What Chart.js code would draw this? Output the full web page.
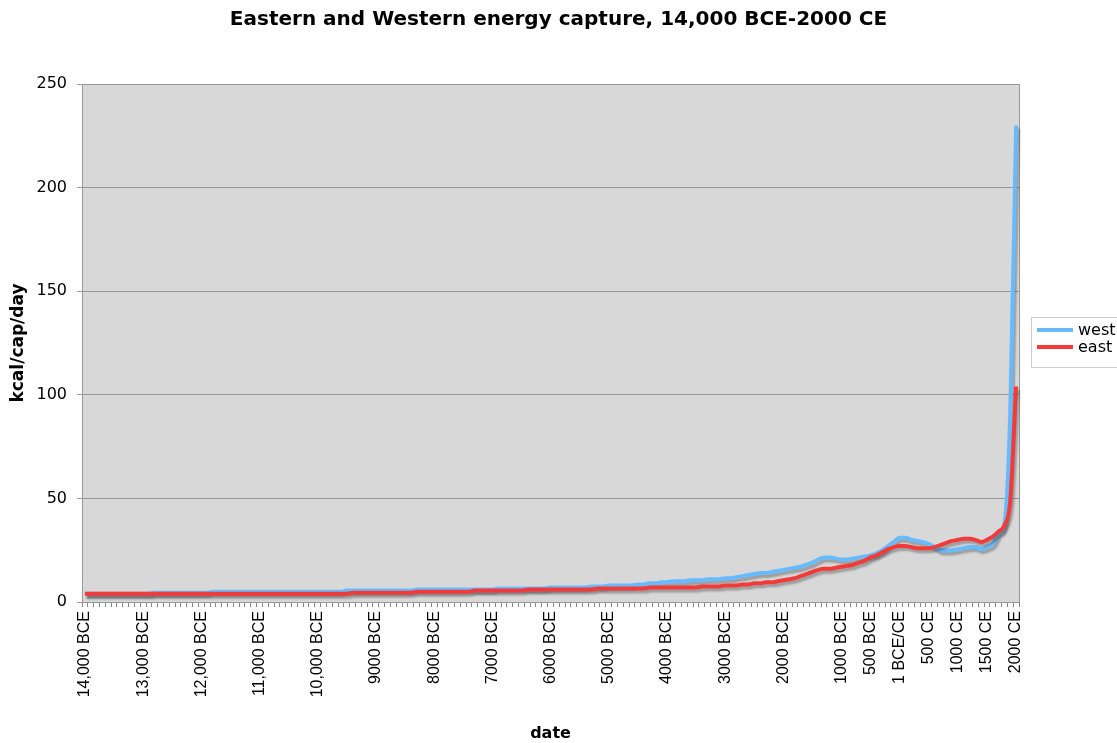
<!DOCTYPE html>
<html>
<head>
<meta charset="utf-8">
<title>Eastern and Western energy capture</title>
<script src="https://cdn.jsdelivr.net/npm/chart.js@4.4.0/dist/chart.umd.min.js"></script>
<style>
  body { margin: 0; background: #fff; }
  #wrap { width: 1117px; height: 743px; }
</style>
</head>
<body>
<div id="wrap"><canvas id="grafico" width="1117" height="743"></canvas></div>
<script>
// categorias: um ponto a cada 100 anos, 14,000 BCE ate 2000 CE
const categories = [];
for (let y = -14000; y <= 2000; y += 100) {
  if (y === 0) categories.push('1 BCE/CE');
  else if (y < 0) {
    let a = -y;
    categories.push((a >= 10000 ? a.toLocaleString('en-US') : String(a)) + ' BCE');
  } else categories.push(y + ' CE');
}

// rotulos que aparecem no eixo x
const tickLabels = ['14,000 BCE', '13,000 BCE', '12,000 BCE', '11,000 BCE', '10,000 BCE',
  '9000 BCE', '8000 BCE', '7000 BCE', '6000 BCE', '5000 BCE', '4000 BCE', '3000 BCE',
  '2000 BCE', '1000 BCE', '500 BCE', '1 BCE/CE', '500 CE', '1000 CE', '1500 CE', '2000 CE'];

// west (mil kcal/cap/dia)
const west = [
  4, 4, 4, 4, 4, 4, 4, 4, 4, 4,                       // 14,000 BCE
  4, 4, 4.5, 4.5, 4.5, 4.5, 4.5, 4.5, 4.5, 4.5,       // 13,000
  4.5, 4.5, 5, 5, 5, 5, 5, 5, 5, 5,                   // 12,000
  5, 5, 5, 5, 5, 5, 5, 5, 5, 5,                       // 11,000
  5, 5, 5, 5, 5, 5.5, 5.5, 5.5, 5.5, 5.5,             // 10,000
  5.5, 5.5, 5.5, 5.5, 5.5, 5.5, 5.5, 6, 6, 6,         // 9000
  6, 6, 6, 6, 6, 6, 6, 6, 6, 6,                       // 8000
  6, 6.5, 6.5, 6.5, 6.5, 6.5, 6.5, 6.5, 6.5, 6.5,     // 7000
  7, 7, 7, 7, 7, 7, 7, 7.5, 7.5, 7.5,                 // 6000
  8, 8, 8, 8, 8, 8.5, 8.5, 9, 9, 9.5,                 // 5000
  9.5, 10, 10, 10, 10.5, 10.5, 10.5, 11, 11, 11,      // 4000
  11.5, 11.5, 12, 12.5, 13, 13.5, 14, 14, 14.5, 15,   // 3000
  15.5, 16, 16.5, 17, 18, 19, 20.5, 21.5, 21.5, 21,   // 2000
  20.5, 20.5, 21, 21.5, 22, 22.5, 23.5, 25, 27, 29,   // 1000 BCE
  31, 31, 30, 29.5, 29, 28, 26.5, 25, 24.8, 25,       // 1 BCE/CE
  25.5, 26, 26.5, 26.5, 25.5, 26.5, 28, 33, 38, 92,   // 1000 CE
  230                                                 // 2000 CE
];

// east
const east = [
  4, 4, 4, 4, 4, 4, 4, 4, 4, 4,
  4, 4, 4, 4, 4, 4, 4, 4, 4, 4,
  4, 4, 4, 4, 4, 4, 4, 4, 4, 4,
  4, 4, 4, 4, 4, 4, 4, 4, 4, 4,
  4, 4, 4, 4, 4, 4, 4.5, 4.5, 4.5, 4.5,
  4.5, 4.5, 4.5, 4.5, 4.5, 4.5, 4.5, 5, 5, 5,
  5, 5, 5, 5, 5, 5, 5, 5.5, 5.5, 5.5,
  5.5, 5.5, 5.5, 5.5, 5.5, 5.5, 6, 6, 6, 6,
  6, 6, 6, 6, 6, 6, 6, 6, 6.5, 6.5,
  6.5, 6.5, 6.5, 6.5, 6.5, 6.5, 6.5, 7, 7, 7,
  7, 7, 7, 7, 7, 7, 7.5, 7.5, 7.5, 7.5,
  8, 8, 8, 8.5, 8.5, 9, 9, 9.5, 9.5, 10,
  10.5, 11, 11.5, 12.5, 13.5, 14.5, 15.5, 16, 16, 16.5,
  17, 17.5, 18, 19, 20, 21.5, 22.5, 24, 25.5, 26.5,
  27, 27, 26.5, 26, 26, 26, 26.5, 27.5, 28.5, 29.5,
  30, 30.5, 30.5, 30, 29, 30, 31.5, 34, 37, 49,
  104
];

const corWest = '#66bbff';
const corEast = '#f23a3a';

// fundo cinza da area do grafico e borda
const fundoPlugin = {
  id: 'fundo',
  beforeDraw(chart) {
    const ctx = chart.ctx, a = chart.chartArea;
    ctx.save();
    ctx.fillStyle = '#fff';
    ctx.fillRect(0, 0, chart.width, chart.height);
    ctx.fillStyle = '#d8d8d8';
    ctx.fillRect(a.left, a.top, a.right - a.left, a.bottom - a.top);
    ctx.restore();
  },
  beforeDatasetsDraw(chart) {
    const ctx = chart.ctx, a = chart.chartArea;
    ctx.save();
    ctx.strokeStyle = '#999';
    ctx.lineWidth = 1;
    ctx.strokeRect(Math.round(a.left) + 0.5, Math.round(a.top) + 0.5,
      Math.round(a.right - a.left), Math.round(a.bottom - a.top));
    ctx.restore();
  }
};

// sombra nas linhas
const sombraPlugin = {
  id: 'sombra',
  beforeDatasetDraw(chart) {
    const ctx = chart.ctx;
    ctx.save();
    ctx.shadowColor = 'rgba(0,0,0,0.28)';
    ctx.shadowOffsetX = 2;
    ctx.shadowOffsetY = 3;
    ctx.shadowBlur = 2;
  },
  afterDatasetDraw(chart) {
    chart.ctx.restore();
  }
};

// legenda a direita com caixa
const legendaPlugin = {
  id: 'legenda',
  afterDraw(chart) {
    const ctx = chart.ctx;
    ctx.save();
    ctx.fillStyle = '#fff';
    ctx.fillRect(1031.5, 317.5, 90, 50);
    ctx.strokeStyle = '#ccc';
    ctx.lineWidth = 1;
    ctx.strokeRect(1031.5, 317.5, 90, 50);
    ctx.font = '16px "DejaVu Sans"';
    ctx.textBaseline = 'middle';
    chart.data.datasets.forEach((ds, i) => {
      const y = 330 + i * 17;
      ctx.strokeStyle = ds.borderColor;
      ctx.lineWidth = 4;
      ctx.beginPath();
      ctx.moveTo(1037, y);
      ctx.lineTo(1073, y);
      ctx.stroke();
      ctx.fillStyle = '#000';
      ctx.fillText(ds.label, 1078, y + 1);
    });
    ctx.restore();
  }
};

function createGrafico(IdElement) {
  let ctx = document.getElementById(IdElement).getContext('2d');
  window.grafico = new Chart(ctx, {
    type: 'line',
    data: {
      labels: categories,
      datasets: [
        { label: 'west', data: west, borderColor: corWest, order: 2 },
        { label: 'east', data: east, borderColor: corEast, order: 1 }
      ]
    },
    options: {
      responsive: false,
      animation: false,
      layout: { padding: { left: 0, right: 0, top: 0, bottom: 0 } },
      elements: {
        point: { radius: 0 },
        line: { borderWidth: 4, cubicInterpolationMode: 'monotone', fill: false }
      },
      plugins: {
        legend: { display: false },
        tooltip: { enabled: false },
        title: {
          display: true,
          text: 'Eastern and Western energy capture, 14,000 BCE-2000 CE',
          color: '#000',
          font: { family: 'DejaVu Sans', size: 20, weight: 'bold' },
          padding: { top: 8, bottom: 52 }
        }
      },
      scales: {
        x: {
          offset: true,
          grid: { display: true, drawOnChartArea: false, tickLength: 5, color: '#888', offset: true },
          border: { color: '#888' },
          ticks: {
            autoSkip: false,
            maxRotation: 90,
            minRotation: 90,
            padding: 4,
            color: '#000',
            font: { family: 'Liberation Sans', size: 16 },
            callback: function (value) {
              let l = this.getLabelForValue(value);
              return tickLabels.includes(l) ? l : '';
            }
          },
          title: {
            display: true,
            text: 'date',
            color: '#000',
            font: { family: 'DejaVu Sans', size: 16, weight: 'bold' },
            padding: { top: 0, bottom: 0 }
          },
          afterFit: function (s) { s.height = 141; }
        },
        y: {
          min: 0,
          max: 250,
          ticks: {
            stepSize: 50,
            padding: 10,
            color: '#000',
            font: { family: 'DejaVu Sans', size: 16 }
          },
          grid: { color: '#999', tickLength: 5 },
          border: { color: '#888' },
          title: {
            display: true,
            text: 'kcal/cap/day',
            color: '#000',
            font: { family: 'DejaVu Sans', size: 17, weight: 'bold' },
            padding: { top: 8, bottom: 0 }
          },
          afterFit: function (s) { s.width = 82; }
        },
        // eixo vazio a direita, so para reservar espaco da legenda
        espaco: {
          position: 'right',
          display: true,
          ticks: { display: false },
          grid: { display: false },
          border: { display: false },
          afterFit: function (s) { s.width = 98; }
        }
      }
    },
    plugins: [fundoPlugin, sombraPlugin, legendaPlugin]
  });
}

window.onload = function () {
  createGrafico('grafico');
};
</script>
</body>
</html>
